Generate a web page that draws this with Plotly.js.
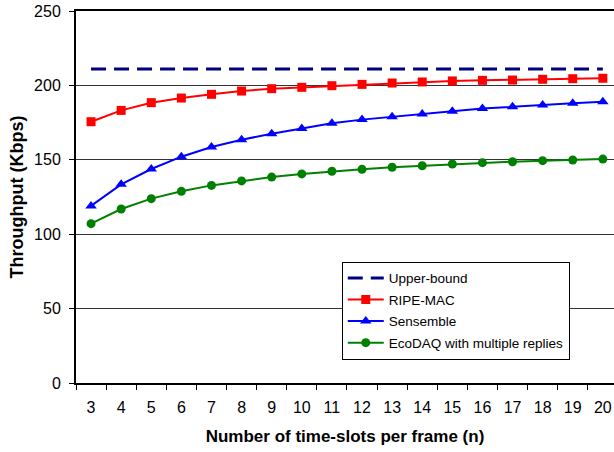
<!DOCTYPE html>
<html><head><meta charset="utf-8">
<script src="https://cdn.plot.ly/plotly-3.0.1.min.js"></script>
<style>body{margin:0;padding:0;background:#fff}#chart{width:614px;height:452px}</style>
</head><body><div id="chart"></div>
<script>
const slots = ['3','4','5','6','7','8','9','10','11','12','13','14','15','16','17','18','19','20'];
const upperBound = [211,211,211,211,211,211,211,211,211,211,211,211,211,211,211,211,211,211];
const ripeMac = [175.6,183.2,188.4,191.5,194.0,196.2,197.8,198.7,199.8,200.7,201.6,202.3,203.0,203.4,203.6,204.1,204.5,204.8];
const sensemble = [119.0,133.5,143.8,152.1,158.6,163.5,167.5,171.1,174.5,177.0,179.0,180.8,182.6,184.4,185.7,186.8,188.0,189.0];
const ecoDaq = [107.1,116.9,123.9,128.8,132.8,135.8,138.4,140.5,142.3,143.6,145.0,146.0,147.2,148.1,148.7,149.4,149.9,150.5];

const traces = [
  {x: slots, y: upperBound, name: 'Upper-bound', mode: 'lines', legendgroup: 'a',
   line: {color: '#000080', width: 3, dash: '15px,8px'}},
  {x: slots, y: ripeMac, name: 'RIPE-MAC', mode: 'lines+markers', legendgroup: 'b',
   line: {color: '#FF0000', width: 2}, marker: {symbol: 'square', size: 9, color: '#FF0000'}},
  {x: slots, y: sensemble, name: 'Sensemble', mode: 'lines+markers', legendgroup: 'c',
   line: {color: '#0000FF', width: 2}, marker: {symbol: 'triangle-up', size: 10, color: '#0000FF'}},
  {x: slots, y: ecoDaq, name: 'EcoDAQ with multiple replies', mode: 'lines+markers', legendgroup: 'd',
   line: {color: '#008000', width: 2}, marker: {symbol: 'circle', size: 9, color: '#008000'}}
];

const layout = {
  width: 614, height: 452,
  margin: {l: 76, r: 0, t: 11, b: 69},
  paper_bgcolor: '#fff', plot_bgcolor: '#fff',
  font: {family: 'Liberation Sans, Arial, sans-serif', size: 16, color: '#000'},
  showlegend: true,
  legend: {x: 0.494, y: 0.326, xanchor: 'left', yanchor: 'top',
    bordercolor: '#000', borderwidth: 1, bgcolor: '#fff',
    font: {size: 13.5}, tracegroupgap: 1, itemwidth: 36},
  xaxis: {type: 'category', range: [-0.5, 17.37], showgrid: false,
    showline: true, linecolor: '#000', linewidth: 2, mirror: true,
    ticks: 'outside', ticklen: 5, tickwidth: 1, tickcolor: '#000', tickson: 'boundaries',
    ticklabelstandoff: 9,
    tickfont: {size: 16},
    title: {text: '<b>Number of time-slots per frame (n)</b>', font: {size: 17}, standoff: 15}},
  yaxis: {range: [0, 250], tickvals: [0,50,100,150,200,250], showgrid: true,
    gridcolor: '#333', gridwidth: 1, zeroline: false,
    showline: true, linecolor: '#000', linewidth: 2,
    ticks: 'outside', ticklen: 5, tickwidth: 1, tickcolor: '#000',
    ticklabelstandoff: 5,
    tickfont: {size: 16},
    title: {text: '<b>Throughput (Kbps)</b>', font: {size: 18}, standoff: 6}}
};
Plotly.newPlot('chart', traces, layout, {displayModeBar: false, staticPlot: true});
</script></body></html>
